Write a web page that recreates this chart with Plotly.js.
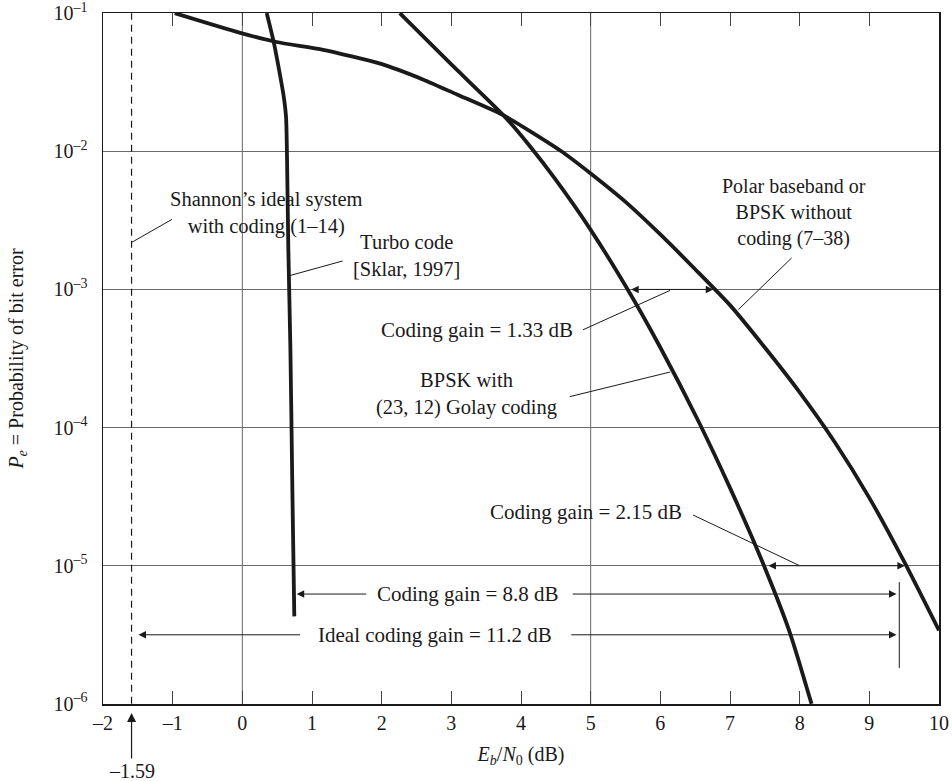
<!DOCTYPE html>
<html>
<head>
<meta charset="utf-8">
<script src="https://cdn.plot.ly/plotly-3.0.1.min.js"></script>
<style>html,body{margin:0;padding:0;background:#fff;}#chart{width:952px;height:781px;}</style>
</head>
<body>
<div id="chart"></div>
<script>
// ---- data ----
const xTickVals = [-2, -1, 0, 1, 2, 3, 4, 5, 6, 7, 8, 9, 10];
const xTickText = ['–2', '–1', '0', '1', '2', '3', '4', '5', '6', '7', '8', '9', '10'];
const yTickVals = [1e-6, 1e-5, 1e-4, 1e-3, 1e-2, 1e-1];
const yTickText = ['10<sup>–6</sup>', '10<sup>–5</sup>', '10<sup>–4</sup>', '10<sup>–3</sup>', '10<sup>–2</sup>', '10<sup>–1</sup>'];

// Polar baseband or BPSK without coding
const uncodedX = [-0.97, -0.03, 0.49, 1.16, 1.98, 2.60, 3.08, 3.75, 4.58, 5.0, 5.5, 6.0, 6.5, 7.0, 7.5, 8.0, 8.5, 9.0, 9.5, 10.0];
const uncodedY = [0.1, 0.072, 0.0618, 0.0543, 0.0431, 0.033, 0.0258, 0.0182, 0.0100, 6.9e-3, 4.3e-3, 2.5e-3, 1.4e-3, 7.7e-4, 3.8e-4, 1.8e-4, 7.9e-5, 3.1e-5, 1.07e-5, 3.4e-6];

// BPSK with (23,12) Golay coding
const golayX = [2.26, 3.0, 3.75, 4.12, 4.5, 5.0, 5.59, 6.0, 6.54, 7.0, 7.46, 7.86, 8.17];
const golayY = [0.1, 0.0425, 0.0182, 0.011, 6.2e-3, 2.7e-3, 8.9e-4, 3.8e-4, 1.13e-4, 3.66e-5, 1.08e-5, 3.27e-6, 1.0e-6];

// Turbo code [Sklar, 1997]
const turboX = [0.35, 0.45, 0.51, 0.595, 0.628, 0.64, 0.66, 0.69, 0.72, 0.746];
const turboY = [0.1, 0.062, 0.0434, 0.0247, 0.0175, 0.01, 2.0e-3, 3.7e-4, 3.1e-5, 4.3e-6];

// Shannon limit
const shannonLimit = -1.59;
const shannonX = [shannonLimit, shannonLimit];
const shannonY = [1e-6, 1e-1];

// coding gains (dB spans)
const gain133 = [5.56, 6.76];   // at Pe = 1e-3
const gain215 = [7.53, 9.51];   // at Pe = 1e-5
const gain88  = [0.78, 9.39];
const gain112 = [-1.49, 9.39];

// ---- styling ----
const FONT = 'Liberation Serif, Times New Roman, serif';
const INK = '#1a1a1a';
const curveLine = {color: INK, width: 3.8, shape: 'spline', smoothing: 0.6};

const traces = [
  {x: uncodedX, y: uncodedY, mode: 'lines', line: curveLine, hoverinfo: 'skip'},
  {x: golayX, y: golayY, mode: 'lines', line: curveLine, hoverinfo: 'skip'},
  {x: turboX, y: turboY, mode: 'lines', line: curveLine, hoverinfo: 'skip'},
  {x: shannonX, y: shannonY, mode: 'lines', line: {color: INK, width: 1.2, dash: '7px,5px'}, hoverinfo: 'skip'}
];

const L = Math.log10;
function label(text, x, ly, xanchor, size) {
  return {text: text, x: x, y: ly, xref: 'x', yref: 'y', showarrow: false,
          xanchor: xanchor || 'center', yanchor: 'middle', align: 'center',
          font: {family: FONT, size: size || 21, color: INK}};
}
function arrow(x0, x1, ly, both) {
  return {text: '', x: x1, y: ly, ax: x0, ay: ly, xref: 'x', yref: 'y', axref: 'x', ayref: 'y',
          showarrow: true, arrowhead: 2, startarrowhead: 2, arrowsize: 1.5, startarrowsize: 1.5,
          arrowwidth: 1, arrowcolor: INK, arrowside: both ? 'end+start' : 'end', standoff: 0, startstandoff: 0};
}
function leader(x0, y0, x1, y1) {
  return {type: 'line', xref: 'x', yref: 'y', x0: x0, y0: y0, x1: x1, y1: y1,
          line: {color: INK, width: 1}};
}

const annotations = [
  label('Shannon’s ideal system<br>with coding (1–14)', 0.35, -2.447, 'center', 20.5),
  label('Turbo code<br>[Sklar, 1997]', 2.35, -2.751, 'center', 20.5),
  label('Polar baseband or<br>BPSK without<br>coding (7–38)', 7.92, -2.443, 'center', 20),
  label('Coding gain = 1.33 dB', 4.78, -3.292, 'right'),
  label('BPSK with<br>(23, 12) Golay coding', 3.22, -3.76, 'center', 20.5),
  label('Coding gain = 2.15 dB', 4.93, -4.609),
  label('Coding gain = 8.8 dB', 3.24, -5.205),
  label('Ideal coding gain = 11.2 dB', 2.77, -5.5),
  arrow(gain133[0], gain133[1], L(1e-3), true),
  arrow(gain215[0], gain215[1], L(1e-5), true),
  arrow(1.80, gain88[0], -5.205, false),
  arrow(4.72, gain88[1], -5.205, false),
  arrow(0.85, gain112[0], -5.5, false),
  arrow(4.70, gain112[1], -5.5, false),
  {text: '–1.59', x: shannonLimit, y: -0.013, xref: 'x', yref: 'paper', showarrow: true,
   ax: 0, ay: 58, arrowhead: 2, arrowsize: 1.5, arrowwidth: 1.2, arrowcolor: INK,
   font: {family: FONT, size: 20, color: INK}}
];

const shapes = [
  {type: 'line', xref: 'x', yref: 'paper', x0: 0, x1: 0, y0: 0, y1: 1, layer: 'below', line: {color: '#666', width: 1}},
  {type: 'line', xref: 'x', yref: 'paper', x0: 5, x1: 5, y0: 0, y1: 1, layer: 'below', line: {color: '#666', width: 1}},
  {type: 'line', xref: 'x', yref: 'y', x0: 9.43, x1: 9.43, y0: 7.6e-6, y1: 1.82e-6, line: {color: INK, width: 1}},
  leader(-1.01, Math.pow(10, -2.493), shannonLimit, Math.pow(10, -2.66)),
  leader(1.44, Math.pow(10, -2.794), 0.68, Math.pow(10, -2.90)),
  leader(7.885, Math.pow(10, -2.772), 7.12, Math.pow(10, -3.146)),
  leader(4.89, Math.pow(10, -3.292), 6.14, Math.pow(10, -3.007)),
  leader(4.70, Math.pow(10, -3.776), 6.14, Math.pow(10, -3.598)),
  leader(6.47, Math.pow(10, -4.633), 8.00, 1e-5)
];

const layout = {
  width: 952, height: 781,
  margin: {l: 103, r: 13, t: 13, b: 77},
  paper_bgcolor: '#fff', plot_bgcolor: '#fff',
  showlegend: false,
  font: {family: FONT, size: 20, color: INK},
  xaxis: {
    range: [-2, 10], tickmode: 'array', tickvals: xTickVals, ticktext: xTickText,
    ticks: 'inside', ticklen: 13, tickwidth: 1, tickcolor: '#444',
    showline: true, linecolor: INK, linewidth: 1.5, mirror: 'ticks',
    showgrid: false, zeroline: false, ticklabeloverflow: 'allow',
    tickfont: {family: FONT, size: 20, color: INK},
    title: {text: '<i>E<sub>b</sub></i>/<i>N</i><sub>0</sub> (dB)', font: {family: FONT, size: 20, color: INK}, standoff: 14}
  },
  yaxis: {
    type: 'log', range: [-6.001, -0.999], tickmode: 'array', tickvals: yTickVals, ticktext: yTickText,
    ticks: '', showline: true, linecolor: INK, linewidth: 1.5, mirror: true,
    showgrid: true, gridcolor: '#6a6a6a', gridwidth: 1, zeroline: false,
    ticklabelstandoff: 10, ticklabeloverflow: 'allow',
    tickfont: {family: FONT, size: 20, color: INK},
    title: {text: '<i>P<sub>e</sub></i> = Probability of bit error', font: {family: FONT, size: 20, color: INK}, standoff: 24}
  },
  annotations: annotations,
  shapes: shapes
};

Plotly.newPlot('chart', traces, layout, {displayModeBar: false, staticPlot: true});
</script>
</body>
</html>
